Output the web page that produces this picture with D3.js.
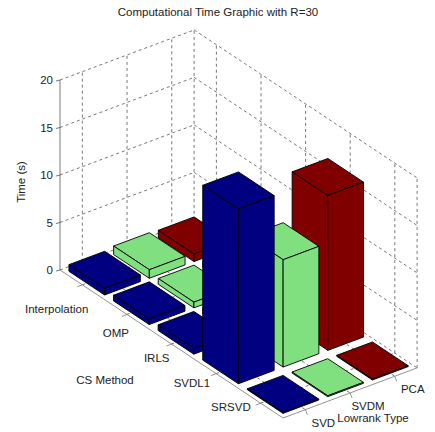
<!DOCTYPE html>
<html><head><meta charset="utf-8">
<script src="https://cdn.jsdelivr.net/npm/d3@7"></script>
<style>body{margin:0;background:#fff}text{font-family:"Liberation Sans",Arial,sans-serif;font-size:11.5px;fill:#222}</style>
</head><body>
<script>
var csMethods = ["Interpolation","OMP","IRLS","SVDL1","SRSVD"];
var lowrankTypes = ["SVD","SVDM","PCA"];
// rows = CS method, columns = SVD, SVDM, PCA
var timeSVD  = [0.7, 0.6, 0.6, 18.4, 0.1];
var timeSVDM = [0.9, 0.6, 0.6, 11.3, 0.1];
var timePCA  = [0.8, 0.6, 0.6, 16.3, 0.1];
var zTicks = [0,5,10,15,20];
var colors = ["#000080","#80e080","#800000"];

var svg = d3.select("body").append("svg").attr("width",435).attr("height",432);
var zScale = d3.scaleLinear().domain([0,20]).range([0,-190]);
// oblique projection: u = lowrank position, v = CS position, z = time
function P(u,v,z){ return [60+44.7*u+44.6*v, 270-16.7*u+29.6*v+zScale(z||0)]; }
var line = d3.line();
function seg(a,b,dash,col){
  svg.append("path").attr("d",line([a,b])).attr("stroke",col||"#555")
    .attr("stroke-width",0.8).attr("fill","none").attr("stroke-dasharray",dash?"3,3":null);
}
// grid: floor, back-left wall (v=0), back-right wall (u=3)
[0.5,1.5,2.5].forEach(function(u){ seg(P(u,0),P(u,5),true); seg(P(u,0,0),P(u,0,20),true); });
[0.5,1.5,2.5,3.5,4.5].forEach(function(v){ seg(P(0,v),P(3,v),true); seg(P(3,v,0),P(3,v,20),true); });
zTicks.forEach(function(z){ seg(P(0,0,z),P(3,0,z),true); seg(P(3,0,z),P(3,5,z),true); });
seg(P(3,0,0),P(3,0,20),true); seg(P(3,5,0),P(3,5,20),true);
// axes
seg(P(0,0,0),P(0,0,20),false,"#555");
seg(P(0,0),P(0,5),false,"#777");
seg(P(0,5),P(3,5),false,"#777");
zTicks.forEach(function(z){
  var p=P(0,0,z); seg(p,[p[0]-4,p[1]+1],false,"#555");
  svg.append("text").attr("x",p[0]-7).attr("y",p[1]+4).attr("text-anchor","end").text(z);
});
csMethods.forEach(function(c,i){
  var p=P(0,i+0.5); seg(p,[p[0]-5,p[1]+2],false,"#777");
  svg.append("text").attr("x",p[0]+6-4*i).attr("y",p[1]+28-5*i).attr("text-anchor","end").text(c);
});
lowrankTypes.forEach(function(c,j){
  var p=P(j+0.5,5); seg(p,[p[0]+2,p[1]+5],false,"#777");
  svg.append("text").attr("x",p[0]+18).attr("y",p[1]+17).attr("text-anchor","middle").text(c);
});
// bars, painter's order: back to front
var cols=[timeSVD,timeSVDM,timePCA], bars=[];
csMethods.forEach(function(c,i){ for(var j=2;j>=0;j--) bars.push({i:i,j:j,z:cols[j][i]}); });
bars.forEach(function(b){
  var u0=b.j+0.1,u1=b.j+0.9,v0=b.i+0.1,v1=b.i+0.9,z=b.z;
  var faces=[
    [P(u0,v0,z),P(u1,v0,z),P(u1,v1,z),P(u0,v1,z)],
    [P(u0,v0,0),P(u0,v1,0),P(u0,v1,z),P(u0,v0,z)],
    [P(u0,v1,0),P(u1,v1,0),P(u1,v1,z),P(u0,v1,z)]];
  faces.forEach(function(f){
    svg.append("path").attr("d",line(f)+"Z").attr("fill",colors[b.j])
      .attr("stroke","#000").attr("stroke-width",0.9).attr("stroke-linejoin","round");
  });
});
svg.append("text").attr("x",218).attr("y",16).attr("text-anchor","middle").text("Computational Time Graphic with R=30");
svg.append("text").attr("transform","translate(25,182) rotate(-90)").attr("text-anchor","middle").text("Time (s)");
svg.append("text").attr("x",105).attr("y",384).attr("text-anchor","middle").text("CS Method");
svg.append("text").attr("x",373).attr("y",422).attr("text-anchor","middle").text("Lowrank Type");
</script>
</body></html>
